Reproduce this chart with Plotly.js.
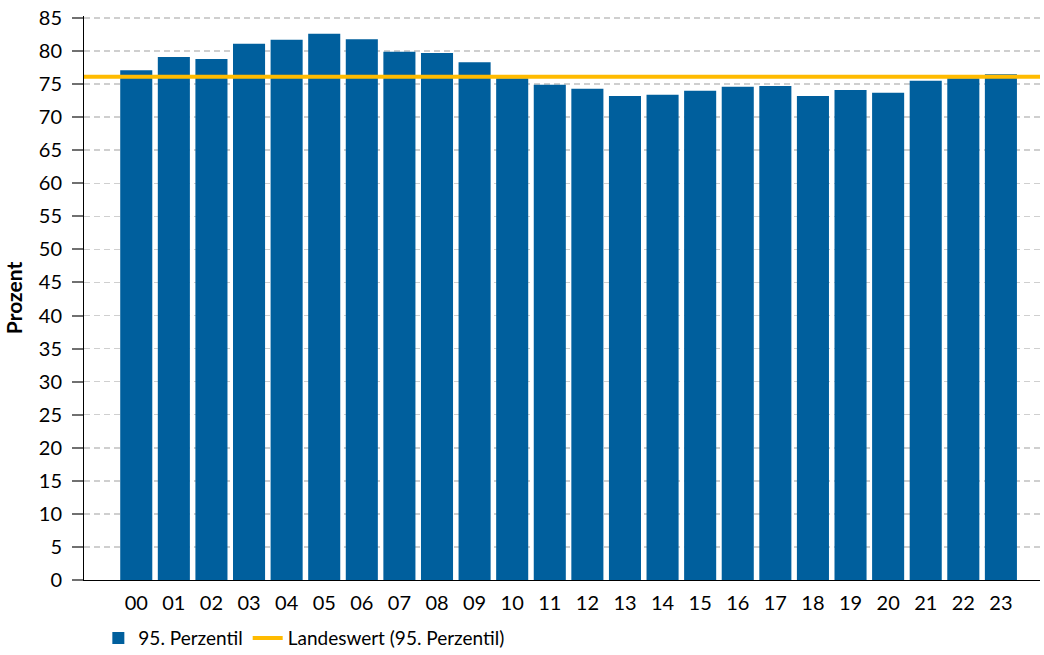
<!DOCTYPE html>
<html>
<head>
<meta charset="utf-8">
<script src="https://cdn.plot.ly/plotly-3.0.1.min.js"></script>
<style>
html,body{margin:0;padding:0;background:#fff;}
#chart{width:1044px;height:655px;}
</style>
</head>
<body>
<div id="chart"></div>
<script>
// Categories: hour of day
const hours = ["00","01","02","03","04","05","06","07","08","09","10","11","12","13","14","15","16","17","18","19","20","21","22","23"];
// 95. Perzentil per hour (Prozent)
const perzentil95 = [77.1,79.1,78.8,81.1,81.7,82.6,81.8,79.9,79.7,78.3,75.9,74.9,74.3,73.2,73.4,74.0,74.6,74.7,73.2,74.1,73.7,75.5,75.9,76.5];
// Landeswert (95. Perzentil)
const landeswert = 76.1;
const seriesNames = ["95. Perzentil","Landeswert (95. Perzentil)"];
const yTitle = "Prozent";

const FONT = "Lato, 'Open Sans', sans-serif";

const traces = [
  {
    type: "bar",
    name: seriesNames[0],
    x: hours,
    y: perzentil95,
    marker: {color: "#005f9d"},
    hoverinfo: "x+y"
  },
  {
    type: "scatter",
    mode: "lines",
    name: seriesNames[1],
    x: [0, 1],
    y: [landeswert, landeswert],
    xaxis: "x2",
    line: {color: "#ffbb00", width: 4},
    hoverinfo: "y"
  }
];

const layout = {
  width: 1044,
  height: 655,
  margin: {l: 84, r: 4, t: 16, b: 75, autoexpand: false},
  paper_bgcolor: "#ffffff",
  plot_bgcolor: "#ffffff",
  font: {family: FONT, size: 19, color: "#000"},
  bargap: 0.147,
  showlegend: true,
  legend: {
    orientation: "h",
    x: 0.015,
    xanchor: "left",
    y: -0.103,
    yanchor: "middle",
    font: {family: FONT, size: 19, color: "#000"},
    bgcolor: "rgba(0,0,0,0)",
    traceorder: "normal"
  },
  xaxis: {
    type: "category",
    range: [-1.39, 24.04],
    showgrid: false,
    showline: true,
    linecolor: "#000",
    linewidth: 1,
    ticks: "",
    ticklabelstandoff: 5,
    tickfont: {family: FONT, size: 20, color: "#000"},
    zeroline: false,
    fixedrange: true
  },
  xaxis2: {
    overlaying: "x",
    range: [0, 1],
    visible: false,
    fixedrange: true
  },
  yaxis: {
    range: [0, 85.3],
    dtick: 5,
    tick0: 0,
    showline: true,
    linecolor: "#000",
    linewidth: 1,
    ticks: "outside",
    ticklen: 11,
    tickwidth: 2,
    tickcolor: "#707070",
    ticklabelstandoff: 6,
    tickfont: {family: FONT, size: 20, color: "#000"},
    showgrid: true,
    gridcolor: "#cfcfcf",
    gridwidth: 1.5,
    griddash: "6px,4px",
    zeroline: false,
    title: {text: yTitle, font: {family: FONT, size: 21, color: "#000", weight: "bold"}, standoff: 10},
    fixedrange: true
  }
};

Plotly.newPlot("chart", traces, layout, {displayModeBar: false, staticPlot: true});
</script>
</body>
</html>
